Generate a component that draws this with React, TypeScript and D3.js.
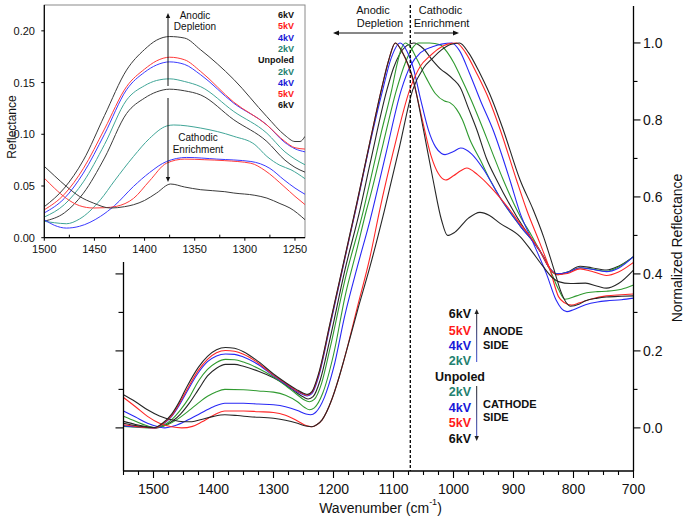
import React from 'react';
import * as d3 from 'd3';

type Pt = [number, number];

const FONT = "Arial, 'Liberation Sans', Helvetica, sans-serif";

// ---------- Main chart data (wavenumber, normalized reflectance) ----------
const main6kVAnode: Pt[] = [[1550,0.012],[1530,0.006],[1510,0.002],[1498,0.001],[1485,0.012],[1470,0.035],[1458,0.065],[1445,0.105],[1425,0.158],[1410,0.186],[1395,0.203],[1380,0.209],[1365,0.207],[1350,0.198],[1325,0.172],[1300,0.14],[1280,0.118],[1262,0.1],[1250,0.09],[1243,0.087],[1236,0.094],[1225,0.14],[1206,0.27],[1181,0.445],[1161,0.585],[1139,0.745],[1120,0.88],[1108,0.955],[1097,1.0],[1085,0.975],[1067,0.904],[1050,0.774],[1034,0.644],[1020,0.54],[1010,0.5],[998,0.508],[975,0.545],[956,0.56],[940,0.552],[923,0.532],[889,0.497],[870,0.46],[851,0.42],[835,0.39],[825,0.38],[805,0.375],[780,0.376],[760,0.368],[745,0.363],[725,0.375],[700,0.41]];
const main5kVAnode: Pt[] = [[1550,0.008],[1530,0.004],[1510,0.001],[1498,0.0],[1485,0.01],[1470,0.031],[1458,0.06],[1445,0.097],[1425,0.15],[1410,0.178],[1395,0.195],[1380,0.201],[1365,0.199],[1350,0.191],[1325,0.168],[1300,0.137],[1280,0.116],[1262,0.097],[1250,0.088],[1244,0.085],[1236,0.092],[1225,0.137],[1206,0.268],[1181,0.443],[1161,0.583],[1139,0.745],[1120,0.88],[1108,0.955],[1097,1.0],[1085,0.975],[1067,0.9],[1052,0.8],[1038,0.71],[1025,0.66],[1013,0.644],[1000,0.655],[988,0.668],[978,0.675],[960,0.658],[939,0.627],[906,0.566],[889,0.53],[870,0.493],[856,0.46],[840,0.415],[828,0.398],[810,0.401],[789,0.413],[770,0.407],[745,0.396],[725,0.405],[700,0.43]];
const main4kVAnode: Pt[] = [[1550,0.006],[1530,0.003],[1510,0.001],[1498,0.0],[1485,0.009],[1470,0.029],[1458,0.056],[1445,0.092],[1425,0.144],[1410,0.172],[1395,0.187],[1380,0.192],[1365,0.191],[1350,0.184],[1325,0.164],[1300,0.135],[1280,0.114],[1262,0.095],[1250,0.086],[1244,0.083],[1236,0.089],[1225,0.132],[1206,0.263],[1181,0.44],[1161,0.58],[1139,0.74],[1118,0.878],[1104,0.96],[1089,1.0],[1078,0.98],[1067,0.935],[1055,0.855],[1042,0.775],[1030,0.73],[1020,0.713],[1014,0.71],[1000,0.718],[988,0.727],[970,0.712],[950,0.672],[923,0.6],[889,0.525],[856,0.46],[840,0.415],[828,0.4],[810,0.404],[789,0.416],[770,0.412],[745,0.406],[725,0.415],[700,0.445]];
const main2kVAnode: Pt[] = [[1550,0.004],[1530,0.002],[1510,0.0],[1495,0.001],[1482,0.008],[1468,0.024],[1455,0.047],[1440,0.08],[1425,0.122],[1410,0.152],[1395,0.17],[1380,0.178],[1365,0.177],[1350,0.171],[1325,0.154],[1300,0.132],[1280,0.11],[1262,0.088],[1250,0.074],[1240,0.068],[1232,0.074],[1220,0.115],[1206,0.205],[1181,0.384],[1150,0.566],[1139,0.64],[1120,0.77],[1103,0.878],[1094,0.945],[1087,0.985],[1080,1.0],[1072,0.99],[1060,0.955],[1045,0.908],[1030,0.868],[1015,0.849],[1006,0.845],[995,0.828],[985,0.8],[973,0.75],[955,0.695],[939,0.644],[923,0.6],[889,0.525],[856,0.46],[840,0.415],[828,0.4],[810,0.404],[789,0.416],[770,0.413],[745,0.407],[725,0.418],[700,0.445]];
const mainUnpoled: Pt[] = [[1550,0.017],[1530,0.009],[1510,0.003],[1495,0.0],[1482,0.006],[1468,0.018],[1455,0.036],[1440,0.065],[1425,0.1],[1410,0.135],[1395,0.155],[1380,0.165],[1365,0.165],[1350,0.16],[1325,0.147],[1300,0.13],[1280,0.112],[1262,0.092],[1250,0.08],[1242,0.075],[1234,0.081],[1222,0.125],[1206,0.23],[1181,0.41],[1156,0.566],[1139,0.687],[1111,0.878],[1100,0.935],[1090,0.97],[1078,0.993],[1066,1.0],[1050,0.985],[1035,0.955],[1020,0.93],[1011,0.92],[1000,0.905],[989,0.885],[975,0.83],[961,0.774],[945,0.7],[928,0.644],[895,0.55],[870,0.49],[850,0.445],[835,0.405],[825,0.398],[810,0.405],[789,0.42],[770,0.416],[745,0.41],[725,0.42],[700,0.445]];
const main2kVCathode: Pt[] = [[1550,0.03],[1530,0.017],[1512,0.006],[1498,0.0],[1485,0.004],[1470,0.013],[1455,0.028],[1440,0.046],[1425,0.065],[1410,0.082],[1395,0.094],[1381,0.1],[1350,0.099],[1325,0.096],[1300,0.093],[1280,0.085],[1260,0.068],[1248,0.053],[1240,0.047],[1232,0.052],[1218,0.09],[1200,0.19],[1181,0.34],[1160,0.47],[1145,0.566],[1139,0.6],[1117,0.74],[1095,0.878],[1080,0.95],[1068,0.988],[1058,1.0],[1040,1.0],[1022,0.995],[1010,0.975],[1000,0.95],[989,0.915],[970,0.85],[950,0.774],[934,0.71],[917,0.644],[889,0.55],[870,0.5],[856,0.46],[839,0.41],[825,0.36],[814,0.334],[795,0.343],[778,0.351],[760,0.354],[745,0.355],[720,0.36],[700,0.371]];
const main4kVCathode: Pt[] = [[1550,0.044],[1530,0.028],[1510,0.012],[1492,0.003],[1481,0.0],[1468,0.004],[1450,0.015],[1425,0.035],[1400,0.055],[1381,0.064],[1350,0.064],[1325,0.062],[1300,0.06],[1280,0.055],[1260,0.045],[1246,0.036],[1238,0.034],[1230,0.04],[1215,0.08],[1200,0.155],[1181,0.293],[1160,0.42],[1139,0.54],[1113,0.71],[1087,0.878],[1072,0.94],[1055,0.975],[1035,0.99],[1020,0.997],[1003,1.0],[990,0.98],[973,0.92],[955,0.85],[934,0.774],[906,0.644],[889,0.558],[867,0.48],[845,0.4],[829,0.332],[820,0.31],[811,0.302],[800,0.307],[780,0.32],[760,0.327],[745,0.33],[720,0.333],[700,0.337]];
const main5kVCathode: Pt[] = [[1550,0.079],[1530,0.055],[1510,0.03],[1490,0.012],[1470,0.003],[1453,0.0],[1435,0.004],[1420,0.015],[1400,0.033],[1381,0.044],[1350,0.044],[1325,0.042],[1300,0.04],[1280,0.033],[1260,0.018],[1246,0.006],[1236,0.003],[1228,0.008],[1219,0.021],[1203,0.073],[1192,0.125],[1181,0.185],[1160,0.315],[1139,0.445],[1123,0.566],[1100,0.72],[1073,0.878],[1055,0.94],[1040,0.965],[1025,0.985],[1010,0.997],[995,1.0],[980,0.975],[961,0.92],[940,0.85],[922,0.774],[895,0.644],[878,0.566],[856,0.48],[839,0.41],[825,0.341],[815,0.325],[803,0.319],[790,0.325],[770,0.335],[745,0.343],[720,0.346],[700,0.348]];
const main6kVCathode: Pt[] = [[1550,0.086],[1530,0.068],[1510,0.047],[1490,0.031],[1470,0.021],[1450,0.016],[1436,0.016],[1420,0.022],[1400,0.03],[1381,0.034],[1360,0.032],[1340,0.029],[1300,0.025],[1280,0.02],[1260,0.012],[1246,0.005],[1236,0.003],[1228,0.008],[1219,0.021],[1203,0.073],[1192,0.125],[1181,0.185],[1160,0.305],[1139,0.42],[1115,0.566],[1090,0.73],[1068,0.878],[1050,0.935],[1035,0.96],[1020,0.982],[1005,0.996],[990,1.0],[975,0.975],[956,0.921],[935,0.85],[917,0.774],[889,0.644],[867,0.566],[850,0.497],[834,0.419],[820,0.35],[812,0.325],[805,0.316],[790,0.322],[780,0.33],[760,0.337],[745,0.34],[720,0.342],[700,0.343]];

// ---------- Inset data (wavenumber, reflectance) ----------
const inset6kVAnode: Pt[] = [[1500,0.03],[1480,0.048],[1461,0.075],[1440,0.118],[1418,0.162],[1400,0.182],[1388,0.191],[1375,0.1945],[1360,0.193],[1344,0.1816],[1311,0.153],[1278,0.117],[1260,0.099],[1250,0.093],[1245,0.093],[1240,0.098]];
const inset5kVAnode: Pt[] = [[1500,0.027],[1480,0.042],[1461,0.067],[1440,0.105],[1418,0.146],[1400,0.163],[1388,0.171],[1375,0.1745],[1360,0.172],[1344,0.1607],[1311,0.131],[1278,0.109],[1260,0.093],[1250,0.087],[1240,0.0857]];
const inset4kVAnode: Pt[] = [[1500,0.024],[1480,0.038],[1461,0.0625],[1440,0.1],[1418,0.143],[1400,0.16],[1388,0.167],[1375,0.17],[1360,0.1675],[1344,0.1575],[1311,0.13],[1278,0.109],[1260,0.092],[1250,0.086],[1240,0.083]];
const inset2kVAnode: Pt[] = [[1500,0.02],[1480,0.032],[1461,0.054],[1440,0.09],[1418,0.133],[1400,0.147],[1388,0.152],[1375,0.1536],[1360,0.151],[1344,0.146],[1311,0.122],[1278,0.101],[1260,0.083],[1250,0.076],[1240,0.0705]];
const insetUnpoled: Pt[] = [[1500,0.016],[1480,0.024],[1461,0.043],[1440,0.077],[1418,0.12],[1400,0.135],[1388,0.141],[1375,0.1436],[1360,0.142],[1344,0.138],[1311,0.114],[1278,0.093],[1260,0.075],[1250,0.068],[1240,0.0634]];
const inset2kVCathode: Pt[] = [[1500,0.0158],[1490,0.0145],[1478,0.0135],[1465,0.018],[1444,0.0367],[1430,0.055],[1411,0.0786],[1395,0.096],[1378,0.108],[1371,0.109],[1344,0.106],[1311,0.098],[1290,0.09],[1278,0.0786],[1265,0.07],[1254,0.0657],[1240,0.057]];
const inset4kVCathode: Pt[] = [[1500,0.0174],[1490,0.012],[1478,0.0093],[1465,0.011],[1444,0.0206],[1430,0.031],[1411,0.0496],[1395,0.063],[1378,0.0737],[1358,0.0776],[1328,0.076],[1294,0.0737],[1275,0.067],[1261,0.056],[1250,0.048],[1240,0.042]];
const inset5kVCathode: Pt[] = [[1500,0.0576],[1490,0.048],[1478,0.038],[1465,0.031],[1451,0.0287],[1440,0.029],[1428,0.0303],[1411,0.038],[1395,0.055],[1378,0.0721],[1360,0.076],[1340,0.0754],[1320,0.0745],[1294,0.072],[1280,0.065],[1261,0.0496],[1250,0.04],[1240,0.032]];
const inset6kVCathode: Pt[] = [[1500,0.069],[1490,0.06],[1478,0.0496],[1465,0.04],[1451,0.0335],[1434,0.0287],[1420,0.03],[1411,0.0319],[1400,0.036],[1388,0.0432],[1374,0.0519],[1360,0.049],[1344,0.0464],[1320,0.0445],[1311,0.0432],[1290,0.041],[1278,0.0383],[1265,0.033],[1255,0.0287],[1240,0.0174]];

// ---------- Ticks / labels ----------
const mainXTicks = [1500, 1400, 1300, 1200, 1100, 1000, 900, 800, 700];
const mainXMinorTicks = [1550, 1525, 1475, 1450, 1425, 1375, 1350, 1325, 1275, 1250, 1225, 1175, 1150, 1125, 1075, 1050, 1025, 975, 950, 925, 875, 850, 825, 775, 750, 725];
const mainYTicks = [0, 0.2, 0.4, 0.6, 0.8, 1.0];
const mainYMinorTicks = [0.1, 0.3, 0.5, 0.7, 0.9];
const leftYTicks = [0, 0.2, 0.4];
const leftYMinorTicks = [0.1, 0.3];
const insetXTicks = [1500, 1450, 1400, 1350, 1300, 1250];
const insetXMinorTicks = [1475, 1425, 1375, 1325, 1275];
const insetYTicks = [0, 0.05, 0.1, 0.15, 0.2];
const dashedAt = 1072;

const legendLabels = ['6kV', '5kV', '4kV', '2kV', 'Unpoled', '2kV', '4kV', '5kV', '6kV'];

const C = { black: '#262626', red: '#ff2626', blue: '#2828f5', green: '#2f9a2f' };
const CI = { black: '#3a3a3a', red: '#ff3a3a', blue: '#3a3aff', teal: '#40a597' };
const T = { black: '#111', red: '#ff1a1a', blue: '#1818d8', teal: '#23806f' };
const legendColors = [T.black, T.red, T.blue, T.teal, T.black, T.teal, T.blue, T.red, T.black];

const mainSeries: { data: Pt[]; color: string }[] = [
  { data: mainUnpoled, color: C.black },
  { data: main2kVCathode, color: C.green },
  { data: main2kVAnode, color: C.green },
  { data: main4kVCathode, color: C.blue },
  { data: main4kVAnode, color: C.blue },
  { data: main5kVCathode, color: C.red },
  { data: main5kVAnode, color: C.red },
  { data: main6kVCathode, color: C.black },
  { data: main6kVAnode, color: C.black },
];

const insetSeries: { data: Pt[]; color: string }[] = [
  { data: insetUnpoled, color: CI.black },
  { data: inset2kVCathode, color: CI.teal },
  { data: inset2kVAnode, color: CI.teal },
  { data: inset4kVCathode, color: CI.blue },
  { data: inset4kVAnode, color: CI.blue },
  { data: inset5kVCathode, color: CI.red },
  { data: inset5kVAnode, color: CI.red },
  { data: inset6kVCathode, color: CI.black },
  { data: inset6kVAnode, color: CI.black },
];

function HArrow({ x1, x2, y, color = '#111' }: { x1: number; x2: number; y: number; color?: string }) {
  const dir = Math.sign(x2 - x1);
  const hl = 6, hw = 2.6;
  return (
    <g>
      <line x1={x1} x2={x2 - dir * hl * 0.6} y1={y} y2={y} stroke={color} strokeWidth={1} />
      <path d={`M${x2},${y} L${x2 - dir * hl},${y - hw} L${x2 - dir * hl},${y + hw} Z`} fill={color} />
    </g>
  );
}

function VArrow({ x, y1, y2, stroke = '#111', fill = '#111', hl = 6, hw = 2.6 }: { x: number; y1: number; y2: number; stroke?: string; fill?: string; hl?: number; hw?: number }) {
  const dir = Math.sign(y2 - y1);
  return (
    <g>
      <line x1={x} x2={x} y1={y1} y2={y2 - dir * hl * 0.6} stroke={stroke} strokeWidth={1} />
      <path d={`M${x},${y2} L${x - hw},${y2 - dir * hl} L${x + hw},${y2 - dir * hl} Z`} fill={fill} />
    </g>
  );
}

export default function App() {
  // main scales
  const mx = d3.scaleLinear().domain([1550, 700]).range([123.5, 633.5]);
  const my = d3.scaleLinear().domain([-0.112, 1.096]).range([471, 6]);
  // inset scales
  const ix = d3.scaleLinear().domain([1500, 1240]).range([44.3, 305]);
  const iy = d3.scaleLinear().domain([0, 0.225]).range([237.7, 5]);

  const mainLine = d3.line<Pt>().x(d => mx(d[0])).y(d => my(d[1])).curve(d3.curveMonotoneX);
  const insetLine = d3.line<Pt>().x(d => ix(d[0])).y(d => iy(d[1])).curve(d3.curveMonotoneX);

  const xAxisY = my(-0.112);
  const rightX = mx(700);
  const leftX = mx(1550);
  const leftTop = 262;

  const legX = 471;
  const legY = [314, 330.5, 346, 361, 376.5, 392, 407.5, 423, 438.5];

  const insetLegY = [15, 26.3, 37.6, 48.9, 60.2, 71.5, 82.8, 94.1, 105.4];

  return (
    <svg width={685} height={518} style={{ position: 'absolute', left: 0, top: 0, background: '#fff' }} fontFamily={FONT}>
      <defs>
        <clipPath id="mainClip">
          <rect x={leftX} y={0} width={rightX - leftX} height={xAxisY} />
        </clipPath>
        <clipPath id="insetClip">
          <rect x={ix(1500)} y={iy(0.225)} width={ix(1240) - ix(1500)} height={iy(0) - iy(0.225)} />
        </clipPath>
        <linearGradient id="gradUp" gradientUnits="userSpaceOnUse" x1={0} y1={310} x2={0} y2={362}>
          <stop offset="0" stopColor="#222" />
          <stop offset="1" stopColor="#3a4ad0" />
        </linearGradient>
        <linearGradient id="gradDown" gradientUnits="userSpaceOnUse" x1={0} y1={386} x2={0} y2={441}>
          <stop offset="0" stopColor="#222" />
          <stop offset="1" stopColor="#3a4ad0" />
        </linearGradient>
      </defs>

      {/* ---------------- MAIN CHART ---------------- */}
      <g clipPath="url(#mainClip)">
        {mainSeries.map((s, i) => (
          <path key={i} d={mainLine(s.data) || ''} fill="none" stroke={s.color} strokeWidth={1.1} />
        ))}
      </g>

      {/* dashed reference line */}
      <line x1={mx(dashedAt)} x2={mx(dashedAt)} y1={5} y2={xAxisY} stroke="#000" strokeWidth={1.3} strokeDasharray="3,2" />

      {/* bottom axis */}
      <line x1={leftX} x2={rightX} y1={xAxisY} y2={xAxisY} stroke="#000" strokeWidth={1.3} />
      {mainXMinorTicks.map(t => (
        <line key={'mxm' + t} x1={mx(t)} x2={mx(t)} y1={xAxisY} y2={xAxisY + 4} stroke="#000" strokeWidth={1.1} />
      ))}
      {mainXTicks.map(t => (
        <g key={'mx' + t}>
          <line x1={mx(t)} x2={mx(t)} y1={xAxisY} y2={xAxisY + 7} stroke="#000" strokeWidth={1.1} />
          <text x={mx(t)} y={489} fontSize={14} textAnchor="middle" dominantBaseline="central" fill="#111">{t}</text>
        </g>
      ))}
      <text x={(leftX + rightX) / 2 + 2} y={508} fontSize={14} textAnchor="middle" dominantBaseline="central" fill="#111">
        Wavenumber (cm<tspan fontSize={9} dy={-6}>-1</tspan><tspan dy={6}>)</tspan>
      </text>

      {/* right axis */}
      <line x1={rightX} x2={rightX} y1={6} y2={xAxisY} stroke="#000" strokeWidth={1.3} />
      {mainYMinorTicks.map(t => (
        <line key={'rym' + t} x1={rightX} x2={rightX + 4} y1={my(t)} y2={my(t)} stroke="#000" strokeWidth={1.1} />
      ))}
      {mainYTicks.map(t => (
        <g key={'ry' + t}>
          <line x1={rightX} x2={rightX + 7} y1={my(t)} y2={my(t)} stroke="#000" strokeWidth={1.1} />
          <text x={643} y={my(t)} fontSize={14} dominantBaseline="central" fill="#111">{t.toFixed(1)}</text>
        </g>
      ))}
      <text transform={`translate(677,248) rotate(-90)`} fontSize={14} textAnchor="middle" dominantBaseline="central" fill="#111">Normalized Reflectance</text>

      {/* left axis (short) */}
      <line x1={leftX} x2={leftX} y1={leftTop} y2={xAxisY} stroke="#000" strokeWidth={1.3} />
      {leftYMinorTicks.map(t => (
        <line key={'lym' + t} x1={leftX} x2={leftX - 5} y1={my(t)} y2={my(t)} stroke="#000" strokeWidth={1.1} />
      ))}
      {leftYTicks.map(t => (
        <line key={'ly' + t} x1={leftX} x2={leftX - 8} y1={my(t)} y2={my(t)} stroke="#000" strokeWidth={1.1} />
      ))}

      {/* top annotations */}
      <text x={373} y={10} fontSize={11} textAnchor="middle" dominantBaseline="central" fill="#111">Anodic</text>
      <text x={380} y={23} fontSize={11} textAnchor="middle" dominantBaseline="central" fill="#111">Depletion</text>
      <HArrow x1={403} x2={333} y={33} />
      <text x={440.5} y={9.5} fontSize={11} textAnchor="middle" dominantBaseline="central" fill="#111">Cathodic</text>
      <text x={441.5} y={23} fontSize={11} textAnchor="middle" dominantBaseline="central" fill="#111">Enrichment</text>
      <HArrow x1={414} x2={459} y={33} />

      {/* main legend */}
      {legendLabels.map((lab, i) => (
        <text key={'lg' + i} x={lab === 'Unpoled' ? 460 : legX} y={legY[i]} fontSize={12.5} fontWeight="bold"
          textAnchor={lab === 'Unpoled' ? 'middle' : 'end'} dominantBaseline="central" fill={legendColors[i]}>{lab}</text>
      ))}
      <VArrow x={476.7} y1={362} y2={309} stroke="url(#gradUp)" fill="#222" hl={5} hw={2.2} />
      <VArrow x={476.7} y1={386} y2={441} stroke="url(#gradDown)" fill="#222" hl={5} hw={2.2} />
      <text x={483} y={331} fontSize={11} fontWeight="bold" dominantBaseline="central" fill="#111">ANODE</text>
      <text x={483} y={344.5} fontSize={11} fontWeight="bold" dominantBaseline="central" fill="#111">SIDE</text>
      <text x={483} y={404} fontSize={11} fontWeight="bold" dominantBaseline="central" fill="#111">CATHODE</text>
      <text x={483} y={417} fontSize={11} fontWeight="bold" dominantBaseline="central" fill="#111">SIDE</text>

      {/* ---------------- INSET ---------------- */}
      <rect x={ix(1500)} y={iy(0.225)} width={ix(1240) - ix(1500)} height={iy(0) - iy(0.225)} fill="#fff" stroke="#8a8a8a" strokeWidth={1} />
      <g clipPath="url(#insetClip)">
        {insetSeries.map((s, i) => (
          <path key={i} d={insetLine(s.data) || ''} fill="none" stroke={s.color} strokeWidth={1} />
        ))}
      </g>
      <line x1={ix(1500)} x2={ix(1500)} y1={iy(0.225)} y2={iy(0)} stroke="#000" strokeWidth={1.2} />
      <line x1={ix(1500)} x2={ix(1240)} y1={iy(0)} y2={iy(0)} stroke="#000" strokeWidth={1.2} />
      {insetYTicks.map(t => (
        <g key={'iy' + t}>
          <line x1={ix(1500)} x2={ix(1500) - 3} y1={iy(t)} y2={iy(t)} stroke="#000" strokeWidth={1} />
          <text x={35} y={iy(t)} fontSize={11} textAnchor="end" dominantBaseline="central" fill="#111">{t.toFixed(2)}</text>
        </g>
      ))}
      {insetXMinorTicks.map(t => (
        <line key={'ixm' + t} x1={ix(t)} x2={ix(t)} y1={iy(0)} y2={iy(0) - 3} stroke="#000" strokeWidth={1} />
      ))}
      {insetXTicks.map(t => (
        <g key={'ix' + t}>
          <line x1={ix(t)} x2={ix(t)} y1={iy(0)} y2={iy(0) + 3} stroke="#000" strokeWidth={1} />
          <text x={ix(t)} y={249} fontSize={11} textAnchor="middle" dominantBaseline="central" fill="#111">{t}</text>
        </g>
      ))}
      <text transform={`translate(12,127) rotate(-90)`} fontSize={12} textAnchor="middle" dominantBaseline="central" fill="#111">Reflectance</text>

      {/* inset annotations */}
      <text x={195} y={15} fontSize={10} textAnchor="middle" dominantBaseline="central" fill="#111">Anodic</text>
      <text x={195} y={26} fontSize={10} textAnchor="middle" dominantBaseline="central" fill="#111">Depletion</text>
      <VArrow x={168} y1={86} y2={13} hl={5} hw={2.2} />
      <VArrow x={168} y1={98} y2={182} hl={5} hw={2.2} />
      <text x={198} y={137} fontSize={10} textAnchor="middle" dominantBaseline="central" fill="#111">Cathodic</text>
      <text x={198} y={149} fontSize={10} textAnchor="middle" dominantBaseline="central" fill="#111">Enrichment</text>

      {/* inset legend */}
      {legendLabels.map((lab, i) => (
        <text key={'ilg' + i} x={294} y={insetLegY[i]} fontSize={9} fontWeight="bold" textAnchor="end"
          dominantBaseline="central" fill={legendColors[i]}>{lab}</text>
      ))}
    </svg>
  );
}
